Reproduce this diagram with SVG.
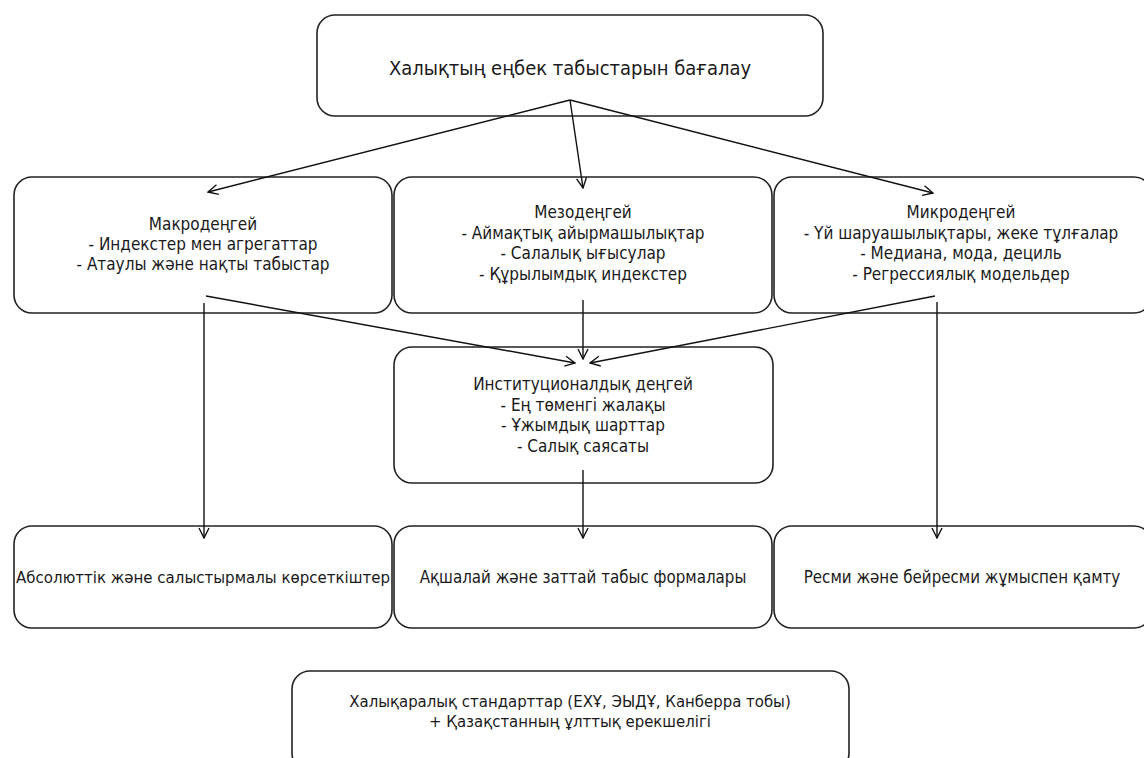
<svg xmlns="http://www.w3.org/2000/svg" width="1144" height="758" viewBox="0 0 1144 758">
<defs>
<style>
.box{fill:#fff;stroke:#222;stroke-width:1.6}
.t{font-family:"DejaVu Sans Condensed","DejaVu Sans",sans-serif;fill:#1a1a1a;text-anchor:middle}
.c{stroke:#111;stroke-width:1.4;fill:none}
</style>
<marker id="ar" viewBox="0 0 12 12" refX="11" refY="6" markerWidth="12" markerHeight="12" markerUnits="userSpaceOnUse" orient="auto">
<path d="M1,1 L11,6 L1,11" fill="none" stroke="#111" stroke-width="1.4"/>
</marker>
</defs>
<rect width="1144" height="758" fill="#fff"/>
<g id="n-top"><rect class="box" x="317" y="15" width="506" height="101" rx="18"/><text class="t" x="570" y="75" font-size="20">Халықтың еңбек табыстарын бағалау</text></g>
<g id="n-macro"><rect class="box" x="14" y="177" width="378" height="136" rx="18"/><text class="t" font-size="17"><tspan x="203" y="230">Макродеңгей</tspan><tspan x="203" y="250">- Индекстер мен агрегаттар</tspan><tspan x="203" y="270">- Атаулы және нақты табыстар</tspan></text></g>
<g id="n-meso"><rect class="box" x="394" y="177" width="378" height="136" rx="18"/><text class="t" font-size="17"><tspan x="583" y="218">Мезодеңгей</tspan><tspan x="583" y="239">- Аймақтық айырмашылықтар</tspan><tspan x="583" y="259">- Салалық ығысулар</tspan><tspan x="583" y="280">- Құрылымдық индекстер</tspan></text></g>
<g id="n-micro"><rect class="box" x="774" y="177" width="378" height="136" rx="18"/><text class="t" font-size="17"><tspan x="961" y="218">Микродеңгей</tspan><tspan x="961" y="239">- Үй шаруашылықтары, жеке тұлғалар</tspan><tspan x="961" y="259">- Медиана, мода, дециль</tspan><tspan x="961" y="280">- Регрессиялық модельдер</tspan></text></g>
<g id="n-inst"><rect class="box" x="394" y="347" width="379" height="136" rx="18"/><text class="t" font-size="17"><tspan x="583" y="390">Институционалдық деңгей</tspan><tspan x="583" y="411">- Ең төменгі жалақы</tspan><tspan x="583" y="431">- Ұжымдық шарттар</tspan><tspan x="583" y="452">- Салық саясаты</tspan></text></g>
<g id="n-abs"><rect class="box" x="14" y="526" width="378" height="102" rx="18"/><text class="t" x="203" y="583" font-size="16.7">Абсолюттік және салыстырмалы көрсеткіштер</text></g>
<g id="n-forms"><rect class="box" x="394" y="526" width="378" height="102" rx="18"/><text class="t" x="583" y="583" font-size="16.8">Ақшалай және заттай табыс формалары</text></g>
<g id="n-empl"><rect class="box" x="774" y="526" width="378" height="102" rx="18"/><text class="t" x="962" y="583" font-size="16.8">Ресми және бейресми жұмыспен қамту</text></g>
<g id="n-std"><rect class="box" x="292" y="671" width="557" height="100" rx="18"/><text class="t" font-size="16.6"><tspan x="570" y="707">Халықаралық стандарттар (ЕХҰ, ЭЫДҰ, Канберра тобы)</tspan><tspan x="570" y="727">+ Қазақстанның ұлттық ерекшелігі</tspan></text></g>
<g id="connectors">
<line class="c" x1="570" y1="100" x2="208" y2="192" marker-end="url(#ar)"/>
<line class="c" x1="570" y1="100" x2="583" y2="188" marker-end="url(#ar)"/>
<line class="c" x1="570" y1="100" x2="933" y2="193" marker-end="url(#ar)"/>
<line class="c" x1="206" y1="296" x2="575" y2="363" marker-end="url(#ar)"/>
<line class="c" x1="583" y1="300" x2="583" y2="359" marker-end="url(#ar)"/>
<line class="c" x1="935" y1="296" x2="590" y2="363" marker-end="url(#ar)"/>
<line class="c" x1="204" y1="303" x2="204" y2="538" marker-end="url(#ar)"/>
<line class="c" x1="583" y1="470" x2="583" y2="538" marker-end="url(#ar)"/>
<line class="c" x1="937" y1="302" x2="937" y2="538" marker-end="url(#ar)"/>
</g>
</svg>
